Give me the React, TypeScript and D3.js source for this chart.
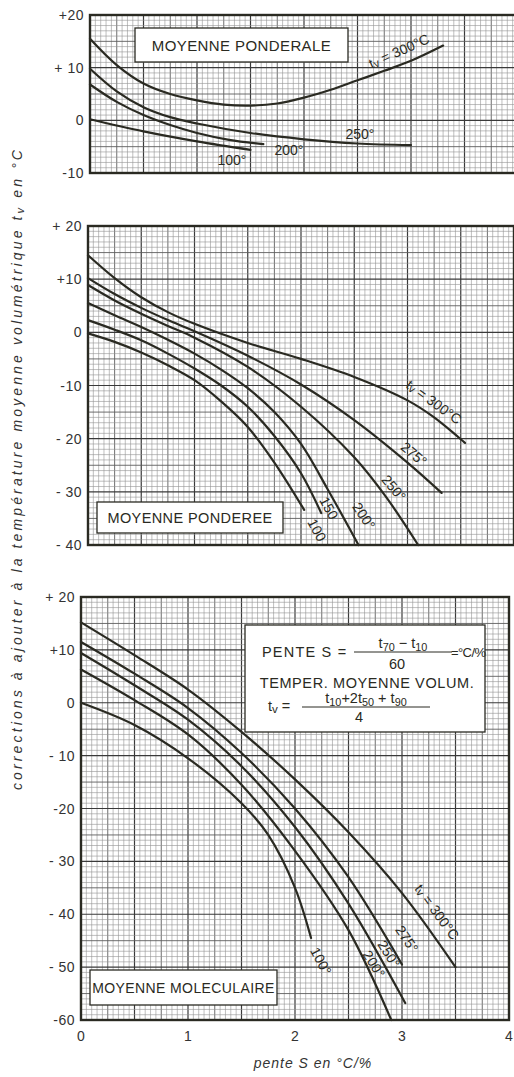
import React from 'react';
import * as d3 from 'd3';

type Pt = [number, number];

// ---------- data ----------
const xTicks = [0, 1, 2, 3, 4];

// Panel 1 : moyenne pondérale
const ponderaleYTicks = [20, 10, 0, -10];
const ponderaleYLabels = ['+20', '+ 10', '0', '-10'];
const ponderale300: Pt[] = [[0, 15.5], [0.25, 10.5], [0.5, 7], [0.75, 5], [1, 3.8], [1.25, 3], [1.5, 2.8], [1.75, 3.2], [2, 4.3], [2.25, 5.8], [2.5, 7.6], [2.75, 9.4], [3, 11.3], [3.3, 14.2]];
const ponderale250: Pt[] = [[0, 9.8], [0.25, 5.5], [0.5, 2.5], [0.75, 0.6], [1, -0.6], [1.5, -2.4], [2, -3.6], [2.5, -4.4], [3, -4.7]];
const ponderale200: Pt[] = [[0, 6.8], [0.25, 3.5], [0.5, 1], [0.75, -0.9], [1, -2.4], [1.3, -3.7], [1.62, -4.5]];
const ponderale100: Pt[] = [[0, 0.2], [0.5, -2.1], [1, -4], [1.5, -5.6]];

// Panel 2 : moyenne pondérée
const pondereeYTicks = [20, 10, 0, -10, -20, -30, -40];
const pondereeYLabels = ['+ 20', '+10', '0', '-10', '- 20', '- 30', '- 40'];
const pondere300: Pt[] = [[0, 14.5], [0.25, 10.2], [0.5, 6.6], [0.75, 3.8], [1, 1.6], [1.5, -2], [2, -5], [2.5, -8.4], [3, -12.8], [3.25, -16], [3.54, -20.8]];
const pondere275: Pt[] = [[0, 10.2], [0.25, 7.2], [0.5, 4.6], [0.75, 2.3], [1, 0.2], [1.5, -4.4], [2, -9.8], [2.5, -16.5], [3, -24.5], [3.32, -30.2]];
const pondere250: Pt[] = [[0, 8.9], [0.25, 6], [0.5, 3.5], [0.75, 1.2], [1, -1], [1.5, -6.5], [2, -14], [2.5, -23.5], [2.8, -31], [3.1, -40]];
const pondere200: Pt[] = [[0, 5.5], [0.25, 3.2], [0.5, 1], [0.75, -1.4], [1, -4], [1.25, -7], [1.5, -10.5], [1.75, -15], [2, -21], [2.25, -29.5], [2.54, -40]];
const pondere150: Pt[] = [[0, 2.3], [0.25, 0.5], [0.5, -1.5], [0.75, -4], [1, -6.8], [1.25, -10], [1.5, -14], [1.75, -19.5], [2, -26.5], [2.19, -34]];
const pondere100: Pt[] = [[0, -0.2], [0.25, -1.8], [0.5, -3.8], [0.75, -6.2], [1, -9], [1.25, -13], [1.5, -17.8], [1.75, -24.5], [2.03, -33.4]];

// Panel 3 : moyenne moléculaire
const molecYTicks = [20, 10, 0, -10, -20, -30, -40, -50, -60];
const molecYLabels = ['+ 20', '+10', '0', '- 10', '-20', '- 30', '- 40', '- 50', '-60'];
const molec300: Pt[] = [[0, 15.2], [0.5, 9], [1, 2.5], [1.5, -5.5], [2, -14.5], [2.5, -24.5], [3, -36], [3.5, -50]];
const molec275: Pt[] = [[0, 11.5], [0.5, 5.5], [1, -1], [1.5, -9.5], [2, -20], [2.5, -33], [3.0, -49.5]];
const molec250: Pt[] = [[0, 9.4], [0.5, 3.3], [1, -3.2], [1.5, -12], [2, -23.5], [2.5, -38], [3.03, -56.8]];
const molec200: Pt[] = [[0, 6.3], [0.5, 0.5], [1, -6], [1.5, -15.5], [2, -28], [2.5, -43], [2.9, -60]];
const molec100: Pt[] = [[0, 0], [0.5, -4.2], [1, -10.5], [1.5, -19], [1.75, -25], [2, -35], [2.15, -44.5]];

// ---------- layout ----------
const W = 514;
const H = 1077;
const FONT = "'Liberation Sans', Arial, sans-serif";
const INK = '#2a2a22';

interface Frame { x0: number; x1: number; yTop: number; yBot: number; vMax: number; vMin: number; }

const frame1: Frame = { x0: 90, x1: 518, yTop: 15, yBot: 173, vMax: 20, vMin: -10 };
const frame2: Frame = { x0: 88, x1: 514, yTop: 226, yBot: 545, vMax: 20, vMin: -40 };
const frame3: Frame = { x0: 81, x1: 509, yTop: 597, yBot: 1020, vMax: 20, vMin: -60 };

function scales(f: Frame) {
  const x = d3.scaleLinear().domain([0, 4]).range([f.x0, f.x1]);
  const y = d3.scaleLinear().domain([f.vMin, f.vMax]).range([f.yBot, f.yTop]);
  return { x, y };
}

interface CurveLabel { text: React.ReactNode; x: number; y: number; angle: number; }

const gridStroke = ['#939393', '#5e5e5e', '#3a3a3a'];
const gridWidth = [0.6, 0.9, 1.2];

function Grid({ f }: { f: Frame }) {
  const { x, y } = scales(f);
  const xs = d3.range(0, 81).map((i) => ({ v: i * 0.05, i }));
  const ys = d3.range(f.vMin, f.vMax + 1, 1);
  const lines: React.ReactNode[] = [];
  xs.forEach(({ v, i }) => {
    const cls = i % 10 === 0 ? 2 : i % 5 === 0 ? 1 : 0;
    lines.push(
      <line key={'x' + i} x1={x(v)} x2={x(v)} y1={f.yTop} y2={f.yBot}
        stroke={gridStroke[cls]} strokeWidth={gridWidth[cls]} />
    );
  });
  ys.forEach((v) => {
    const cls = v % 10 === 0 ? 2 : v % 5 === 0 ? 1 : 0;
    lines.push(
      <line key={'y' + v} x1={f.x0} x2={f.x1} y1={y(v)} y2={y(v)}
        stroke={gridStroke[cls]} strokeWidth={gridWidth[cls]} />
    );
  });
  return <g>{lines}</g>;
}

function Panel({ f, series, yTicks, yLabels, labels, children }: {
  f: Frame; series: Pt[][]; yTicks: number[]; yLabels: string[]; labels: CurveLabel[]; children?: React.ReactNode;
}) {
  const { x, y } = scales(f);
  const line = d3.line<Pt>().x((d) => x(d[0])).y((d) => y(d[1])).curve(d3.curveCatmullRom.alpha(0.5));
  return (
    <g>
      <rect x={f.x0} y={f.yTop} width={f.x1 - f.x0} height={f.yBot - f.yTop} fill="#fff" />
      <Grid f={f} />
      {series.map((s, i) => (
        <path key={i} d={line(s) || ''} fill="none" stroke={INK} strokeWidth={2.2} strokeLinecap="round" />
      ))}
      {labels.map((l, i) => (
        <text key={i} x={0} y={0} transform={`translate(${l.x},${l.y}) rotate(${l.angle})`}
          textAnchor="middle" dominantBaseline="central" fontSize={14} fontFamily={FONT} fill={INK}>
          {l.text}
        </text>
      ))}
      {children}
      <rect x={f.x0} y={f.yTop} width={f.x1 - f.x0} height={f.yBot - f.yTop} fill="none" stroke={INK} strokeWidth={2.4} />
      {yTicks.map((t, i) => (
        <text key={t} x={f.x0 - 6} y={y(t)} textAnchor="end" dominantBaseline="central"
          fontSize={14} fontFamily={FONT} fill="#333" letterSpacing={0.5}>
          {yLabels[i]}
        </text>
      ))}
    </g>
  );
}

function BoxLabel({ x, y, w, h, text, size = 14.5 }: { x: number; y: number; w: number; h: number; text: string; size?: number }) {
  return (
    <g>
      <rect x={x} y={y} width={w} height={h} fill="#fff" stroke={INK} strokeWidth={1.3} />
      <text x={x + w / 2} y={y + h / 2} textAnchor="middle" dominantBaseline="central"
        fontSize={size} fontFamily={FONT} fill={INK} letterSpacing={0.4}>{text}</text>
    </g>
  );
}

const sub = (s: string) => <tspan fontSize="0.75em" dy={3}>{s}</tspan>;
const tv = (rest: string) => <>t<tspan fontSize="0.8em" dy={2}>v</tspan><tspan dy={-2}>{rest}</tspan></>;

export default function App() {
  const s3 = scales(frame3);
  return (
    <svg width={W} height={H} viewBox={`0 0 ${W} ${H}`}
      style={{ position: 'absolute', left: 0, top: 0, background: '#fff' }}>
      <rect width={W} height={H} fill="#fff" />

      <Panel f={frame1} series={[ponderale300, ponderale250, ponderale200, ponderale100]}
        yTicks={ponderaleYTicks} yLabels={ponderaleYLabels}
        labels={[
          { text: tv(' = 300°C'), x: 399, y: 51, angle: -24 },
          { text: '250°', x: 360, y: 134, angle: 0 },
          { text: '200°', x: 289, y: 150, angle: 0 },
          { text: '100°', x: 232, y: 160, angle: 0 },
        ]}>
        <BoxLabel x={135} y={28} w={213} h={34} text="MOYENNE PONDERALE" size={15} />
      </Panel>

      <Panel f={frame2} series={[pondere300, pondere275, pondere250, pondere200, pondere150, pondere100]}
        yTicks={pondereeYTicks} yLabels={pondereeYLabels}
        labels={[
          { text: tv(' = 300°C'), x: 434, y: 402, angle: 36 },
          { text: '275°', x: 414, y: 454, angle: 40 },
          { text: '250°', x: 394, y: 488, angle: 50 },
          { text: '200°', x: 364, y: 516, angle: 56 },
          { text: '150', x: 329, y: 508, angle: 62 },
          { text: '100', x: 317, y: 530, angle: 62 },
        ]}>
        <BoxLabel x={97} y={502} w={186} h={31} text="MOYENNE PONDEREE" size={14.5} />
      </Panel>

      <Panel f={frame3} series={[molec300, molec275, molec250, molec200, molec100]}
        yTicks={molecYTicks} yLabels={molecYLabels}
        labels={[
          { text: tv(' = 300°C'), x: 437, y: 912, angle: 54 },
          { text: '275°', x: 407, y: 939, angle: 56 },
          { text: '250°', x: 389, y: 954, angle: 58 },
          { text: '200°', x: 374, y: 964, angle: 58 },
          { text: '100°', x: 321, y: 961, angle: 62 },
        ]}>
        <BoxLabel x={90} y={970} w={187} h={35} text="MOYENNE MOLECULAIRE" size={14} />
        {/* formula box */}
        <g fontFamily={FONT} fill={INK} fontSize={14.5}>
          <rect x={245} y={625} width={240} height={107} fill="#fff" stroke={INK} strokeWidth={1.3} />
          <text x={262} y={657} letterSpacing={1.2}>PENTE S =</text>
          <text x={403} y={648} textAnchor="middle">t{sub('70')}<tspan dy={-3}> − t</tspan>{sub('10')}</text>
          <line x1={354} x2={452} y1={652} y2={652} stroke={INK} strokeWidth={1} />
          <text x={397} y={669} textAnchor="middle">60</text>
          <text x={451} y={657} fontSize={13} letterSpacing={-0.6}>=°C/%</text>
          <text x={367} y={688} textAnchor="middle" letterSpacing={0.6}>TEMPER. MOYENNE VOLUM.</text>
          <text x={268} y={711}>{tv(' =')}</text>
          <text x={366} y={703} textAnchor="middle">t{sub('10')}<tspan dy={-3}>+2t</tspan>{sub('50')}<tspan dy={-3}> + t</tspan>{sub('90')}</text>
          <line x1={302} x2={430} y1={707} y2={707} stroke={INK} strokeWidth={1} />
          <text x={359} y={722} textAnchor="middle">4</text>
        </g>
      </Panel>

      {/* x tick labels */}
      {xTicks.map((t) => (
        <text key={t} x={s3.x(t)} y={1036} textAnchor="middle" dominantBaseline="central"
          fontSize={14} fontFamily={FONT} fill="#333">{t}</text>
      ))}
      <text x={313} y={1068} textAnchor="middle" fontSize={14} fontStyle="italic" fontFamily={FONT} fill="#333" letterSpacing={1}>
        pente  S   en °C/%
      </text>

      {/* y axis title */}
      <text transform="translate(22,470) rotate(-90)" textAnchor="middle" fontSize={14} fontStyle="italic"
        fontFamily={FONT} fill="#333" textLength={640} lengthAdjust="spacing">
        corrections à ajouter à la température moyenne volumétrique {tv(' en °C')}
      </text>
    </svg>
  );
}
